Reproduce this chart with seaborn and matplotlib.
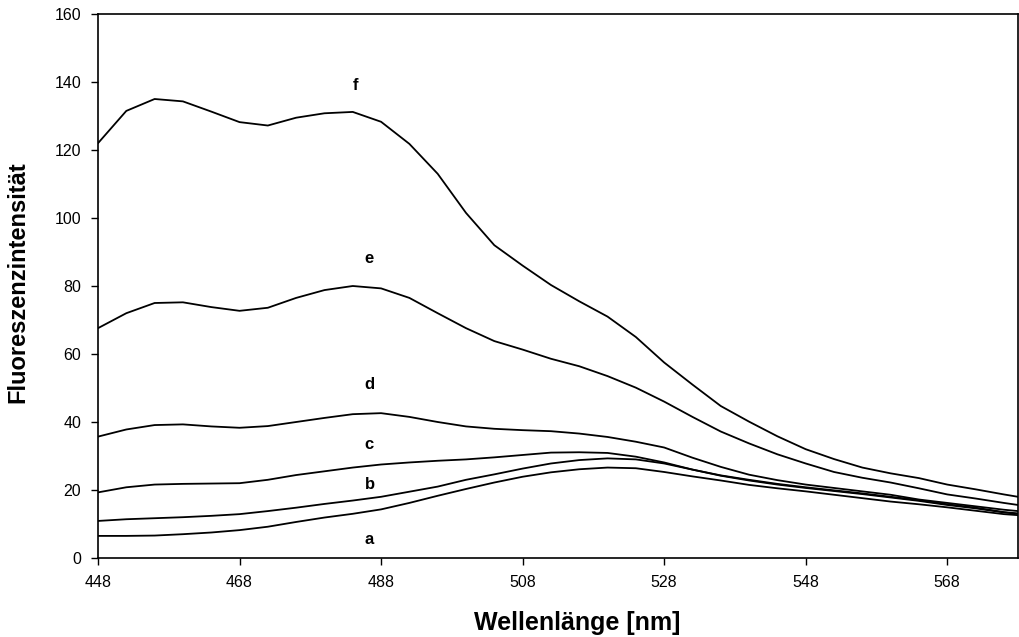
import seaborn as sns
import matplotlib.pyplot as plt
import pandas as pd

wavelength = [448, 452, 456, 460, 464, 468, 472, 476, 480, 484, 488, 492, 496, 500, 504, 508, 512,
              516, 520, 524, 528, 532, 536, 540, 544, 548, 552, 556, 560, 564, 568, 572, 576, 578]

curve_a = [6.5, 6.5, 6.6, 7.0, 7.5, 8.2, 9.2, 10.6, 11.9, 13.0, 14.3, 16.2, 18.3, 20.3, 22.2, 23.9, 25.2,
           26.1, 26.6, 26.4, 25.3, 24.0, 22.8, 21.5, 20.5, 19.6, 18.6, 17.6, 16.6, 15.8, 14.9, 13.9, 12.9, 12.6]
curve_b = [10.9, 11.4, 11.7, 12.0, 12.4, 12.9, 13.8, 14.8, 15.9, 16.9, 18.0, 19.5, 21.0, 23.0, 24.6, 26.3, 27.8,
           28.8, 29.3, 29.0, 27.8, 26.0, 24.2, 22.8, 21.6, 20.6, 19.7, 18.8, 17.8, 16.8, 15.6, 14.6, 13.4, 13.0]
curve_c = [19.3, 20.8, 21.6, 21.8, 21.9, 22.0, 23.0, 24.4, 25.5, 26.6, 27.5, 28.1, 28.6, 29.0, 29.6, 30.3, 31.0,
           31.1, 30.9, 29.8, 28.1, 26.0, 24.3, 23.0, 21.8, 20.8, 19.9, 19.0, 18.0, 17.0, 15.8, 14.8, 13.5, 13.1]
curve_d = [35.7, 37.8, 39.1, 39.3, 38.7, 38.3, 38.8, 40.0, 41.2, 42.3, 42.6, 41.5, 40.0, 38.7, 38.0, 37.6, 37.3,
           36.6, 35.6, 34.2, 32.5, 29.5, 26.8, 24.5, 22.9, 21.6, 20.6, 19.6, 18.6, 17.2, 16.2, 15.2, 14.2, 13.8]
curve_e = [67.6, 72.0, 75.0, 75.2, 73.8, 72.7, 73.6, 76.5, 78.8, 80.0, 79.3, 76.5, 72.0, 67.6, 63.8, 61.3, 58.6,
           56.4, 53.5, 50.1, 46.0, 41.5, 37.2, 33.7, 30.5, 27.8, 25.3, 23.6, 22.2, 20.5, 18.7, 17.5, 16.2, 15.6]
curve_f = [122.0, 131.5, 135.0, 134.3, 131.3, 128.2, 127.2, 129.5, 130.8, 131.2, 128.3, 121.8, 113.0, 101.5, 92.0, 86.0, 80.3,
           75.5, 71.0, 65.0, 57.5, 51.0, 44.7, 40.1, 35.8, 32.0, 29.1, 26.6, 24.9, 23.5, 21.6, 20.2, 18.7, 18.0]

labels = ["a", "b", "c", "d", "e", "f"]
label_x = [486.3, 486.5, 486.3, 486.4, 486.3, 484.4]
label_y = [5.5, 21.5, 33.5, 50.9, 88.1, 139.1]

df = pd.DataFrame({"Wellenlänge": wavelength, "a": curve_a, "b": curve_b, "c": curve_c,
                   "d": curve_d, "e": curve_e, "f": curve_f})
long_df = df.melt(id_vars="Wellenlänge", var_name="Probe", value_name="Intensität")

sns.set_style("ticks")
plt.rcParams["font.family"] = ["Liberation Sans", "DejaVu Sans"]
plt.rcParams["text.color"] = "black"
plt.rcParams["axes.labelcolor"] = "black"
plt.rcParams["xtick.color"] = "black"
plt.rcParams["ytick.color"] = "black"
plt.rcParams["axes.edgecolor"] = "black"

fig = plt.figure(figsize=(10.19, 6.37), dpi=100)
ax = fig.add_axes([98 / 1019, 79 / 637, 920 / 1019, 544 / 637])

sns.lineplot(data=long_df, x="Wellenlänge", y="Intensität", hue="Probe",
             palette=["black"] * 6, linewidth=1.3, legend=False, ax=ax)

for lab, lx, ly in zip(labels, label_x, label_y):
    ax.text(lx, ly, lab, fontsize=12, fontweight="bold", ha="center", va="center", color="black")

ax.set_xlim(448, 578)
ax.set_ylim(0, 160)
ax.set_xticks([448, 468, 488, 508, 528, 548, 568])
ax.set_yticks(range(0, 161, 20))
ax.tick_params(direction="out", length=5, width=1, labelsize=11.5, pad=7)
for s in ax.spines.values():
    s.set_visible(True)
    s.set_linewidth(1.2)

ax.set_xlabel("Wellenlänge [nm]", fontsize=18, fontweight="bold")
ax.set_ylabel("Fluoreszenzintensität", fontsize=17, fontweight="bold")
ax.xaxis.set_label_coords((577 - 98) / 920, (558 - 611) / 544)
ax.yaxis.set_label_coords((29 - 98) / 920, (558 - 282) / 544)

fig.savefig("out.png", dpi=100)
